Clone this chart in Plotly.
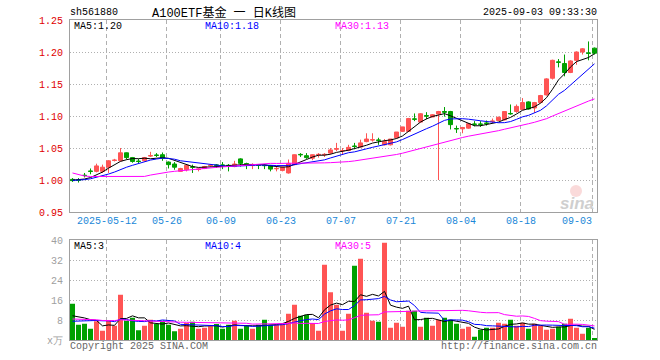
import numpy as np
import plotly.graph_objects as go

# ---------------- data ----------------
open_ = [1.001, 1.000, 1.0075, 1.014, 1.0135, 1.0135, 1.020, 1.0305, 1.030, 1.0425,
         1.035, 1.0295, 1.030, 1.0375, 1.039, 1.0395, 1.028, 1.025, 1.0135, 1.016,
         1.0205, 1.0165, 1.018, 1.0225, 1.0235, 1.0235, 1.023, 1.021, 1.033, 1.0255,
         1.0225, 1.0235, 1.023, 1.0225, 1.0175, 1.015, 1.011, 1.024, 1.040, 1.038,
         1.034, 1.0395, 1.0395, 1.042, 1.048, 1.0455, 1.046, 1.053, 1.0515, 1.060,
         1.0625, 1.0625, 1.055, 1.055, 1.066, 1.076, 1.076, 1.0955, 1.0905, 1.1005,
         1.0985, 1.103, 1.107, 1.107, 1.0805, 1.080, 1.081, 1.0875, 1.0875, 1.089,
         1.0915, 1.093, 1.094, 1.104, 1.107, 1.110, 1.122, 1.1125, 1.121, 1.133,
         1.159, 1.1845, 1.182, 1.168, 1.187, 1.200, 1.1985, 1.206]
high = [1.003, 1.003, 1.011, 1.018, 1.0255, 1.024, 1.031, 1.033, 1.050, 1.043,
        1.036, 1.033, 1.036, 1.044, 1.042, 1.043, 1.029, 1.028, 1.019, 1.025,
        1.024, 1.019, 1.022, 1.025, 1.025, 1.028, 1.025, 1.030, 1.034, 1.027,
        1.026, 1.024, 1.025, 1.0235, 1.0205, 1.021, 1.032, 1.040, 1.042, 1.042,
        1.040, 1.042, 1.042, 1.050, 1.058, 1.050, 1.055, 1.058, 1.063, 1.073,
        1.073, 1.066, 1.064, 1.064, 1.075, 1.083, 1.097, 1.104, 1.1045, 1.106,
        1.103, 1.108, 1.114, 1.108, 1.085, 1.083, 1.089, 1.092, 1.092, 1.093,
        1.096, 1.099, 1.107, 1.118, 1.118, 1.128, 1.123, 1.122, 1.133, 1.159,
        1.188, 1.189, 1.196, 1.187, 1.201, 1.206, 1.2165, 1.207]
low = [0.997, 0.996, 1.004, 1.009, 1.012, 1.011, 1.011, 1.029, 1.029, 1.032,
       1.027, 1.026, 1.029, 1.036, 1.036, 1.030, 1.018, 1.016, 1.013, 1.0135,
       1.011, 1.0135, 1.017, 1.021, 1.019, 1.017, 1.0135, 1.020, 1.021, 1.017,
       1.017, 1.017, 1.017, 1.0135, 1.0135, 1.0135, 1.010, 1.023, 1.036, 1.033,
       1.031, 1.035, 1.036, 1.040, 1.045, 1.040, 1.045, 1.048, 1.051, 1.059,
       1.060, 1.055, 1.054, 1.054, 1.065, 1.075, 1.075, 1.092, 1.090, 1.095,
       1.098, 1.000, 1.099, 1.079, 1.0735, 1.073, 1.080, 1.084, 1.083, 1.085,
       1.089, 1.092, 1.093, 1.102, 1.105, 1.110, 1.110, 1.105, 1.120, 1.132,
       1.157, 1.176, 1.162, 1.167, 1.180, 1.196, 1.187, 1.196]
close = [0.999, 0.9995, 1.007, 1.0135, 1.022, 1.020, 1.030, 1.031, 1.0425, 1.035,
         1.029, 1.029, 1.035, 1.038, 1.0385, 1.034, 1.024, 1.020, 1.018, 1.023,
         1.020, 1.017, 1.021, 1.023, 1.023, 1.023, 1.0225, 1.025, 1.026, 1.025,
         1.023, 1.023, 1.0225, 1.017, 1.018, 1.020, 1.026, 1.0395, 1.0395, 1.035,
         1.0395, 1.040, 1.040, 1.047, 1.049, 1.046, 1.051, 1.0525, 1.058, 1.064,
         1.063, 1.062, 1.060, 1.064, 1.075, 1.083, 1.096, 1.095, 1.1035, 1.100,
         1.102, 1.107, 1.106, 1.0865, 1.080, 1.082, 1.088, 1.087, 1.087, 1.0885,
         1.092, 1.098, 1.107, 1.1035, 1.115, 1.121, 1.111, 1.121, 1.132, 1.158,
         1.187, 1.184, 1.168, 1.186, 1.200, 1.205, 1.198, 1.198]
volume = [14.5, 6.1, 6.5, 4.5, 7.5, 3.7, 7.9, 5.7, 18.1, 7.7,
          8.9, 3.9, 5.7, 8.1, 6.4, 7.7, 6.1, 3.5, 4.5, 6.8,
          7.3, 4.5, 4.9, 5.5, 6.4, 4.5, 6.1, 7.7, 4.5, 5.6,
          4.5, 6.1, 8.1, 6.1, 6.1, 6.4, 10.5, 14.1, 9.7, 10.1,
          6.8, 3.7, 30.1, 19.1, 14.1, 3.7, 10.5, 29.7, 32.5, 10.9,
          7.7, 7.3, 38.9, 4.9, 6.9, 5.3, 11.7, 11.7, 5.3, 8.9,
          5.7, 8.1, 8.9, 8.1, 6.5, 4.5, 5.3, 1.3, 4.1, 4.9,
          4.9, 6.9, 6.5, 8.1, 5.7, 6.9, 4.5, 6.5, 5.7, 4.1,
          4.5, 5.3, 6.5, 8.5, 4.9, 2.5, 4.9, 0.5]
# estimated closes / volumes before the visible window (only feed the moving averages)
prev_close = [1.085, 1.065, 1.035,
              1.022, 1.020, 1.030, 1.031, 1.040, 1.035, 1.029, 1.029, 1.033,
              0.975, 0.980, 0.985, 0.990, 0.985, 0.988, 0.990, 0.988,
              0.995, 1.000, 1.000, 1.000, 1.000,
              0.998, 1.000, 1.002, 1.000]
prev_volume = [7, 9, 8, 10, 12, 8, 7, 9, 11, 14, 9, 8, 7, 8, 10, 9, 8, 7, 8, 8,
               5, 6, 5.5, 5, 5,
               8, 9, 8, 9]

tick_index = [6, 16, 25, 35, 45, 55, 65, 75, 87]
tick_labels = ["2025-05-12", "05-26", "06-09", "06-23", "07-07", "07-21", "08-04", "08-18", "09-03"]
price_ticks = [0.95, 1.00, 1.05, 1.10, 1.15, 1.20, 1.25]
vol_ticks = [0, 8, 16, 24, 32, 40]
vol_tick_text = ["x万", "8", "16", "24", "32", "40"]
price_legend = ["MA5:1.20", "MA10:1.18", "MA30:1.13"]
vol_legend = ["MA5:3", "MA10:4", "MA30:5"]

# ---------------- helpers ----------------
def moving_avg(prev, cur, n):
    s = np.array(list(prev) + list(cur), dtype=float)
    out = []
    for i in range(len(prev), len(s)):
        out.append(float(s[i - n + 1:i + 1].mean()))
    return out

RED = "#ff5454"
GREEN = "#00a000"
MA_COLORS = ["#000000", "#0000ff", "#ff00ff"]
MONO = "Liberation Mono, DejaVu Sans Mono, monospace"
GRID = "#b0b0b0"
BORDER = "#a0a0a0"

x = list(range(len(close)))

W, H = 660, 360
L, R, T, B = 70, 63, 20, 20
PW, PH = W - L - R, H - T - B

def px(v):
    return (v - L) / PW

def py(v):
    return (H - B - v) / PH

fig = go.Figure()

fig.add_trace(go.Candlestick(
    x=x, open=open_, high=high, low=low, close=close,
    increasing=dict(line=dict(color=RED, width=1), fillcolor=RED),
    decreasing=dict(line=dict(color=GREEN, width=1), fillcolor=GREEN),
    whiskerwidth=0, xaxis="x", yaxis="y", showlegend=False, hoverinfo="skip"))

for per, col in zip([5, 10, 30], MA_COLORS):
    fig.add_trace(go.Scatter(x=x, y=moving_avg(prev_close, close, per), mode="lines",
                             line=dict(color=col, width=1), xaxis="x", yaxis="y",
                             showlegend=False, hoverinfo="skip"))

vol_colors = [RED if c >= o else GREEN for o, c in zip(open_, close)]
fig.add_trace(go.Bar(x=x, y=volume, width=5 / 6, marker=dict(color=vol_colors, line=dict(width=0)),
                     xaxis="x2", yaxis="y2", showlegend=False, hoverinfo="skip"))

for per, col in zip([5, 10, 30], MA_COLORS):
    fig.add_trace(go.Scatter(x=x, y=moving_avg(prev_volume, volume, per), mode="lines",
                             line=dict(color=col, width=1), xaxis="x2", yaxis="y2",
                             showlegend=False, hoverinfo="skip"))

grid_x = [k - 0.3 for k in tick_index]
xr = [-2.5 / 6, (PW - 2.5) / 6]

xaxis_common = dict(range=xr, tickvals=grid_x, showticklabels=False, ticks="",
                    showgrid=True, gridcolor=GRID, griddash="4px,3px", gridwidth=1,
                    zeroline=False, showline=True, mirror=True, linecolor=BORDER, linewidth=1,
                    rangeslider=dict(visible=False), fixedrange=True)

annotations = []
def add_text(xp, yp, text, color, size=10, xanchor="left", family=MONO, xref="paper"):
    annotations.append(dict(x=xp, y=yp, xref=xref, yref="paper", text=text, showarrow=False,
                            xanchor=xanchor, yanchor="middle",
                            font=dict(family=family, size=size, color=color)))

add_text(px(68), py(13), "sh561880", "#000000")
add_text(px(224), py(12.5), "A100ETF基金 一 日K线图", "#000000", size=12, xanchor="center",
         family="Liberation Mono, Noto Sans CJK SC")
add_text(px(599), py(13), "2025-09-03 09:33:30", "#000000", xanchor="right")
for txt, xpos, col in zip(price_legend, [72, 203, 333], MA_COLORS):
    add_text(px(xpos), py(26.5), txt, col)
for txt, xpos, col in zip(vol_legend, [72, 203, 333], MA_COLORS):
    add_text(px(xpos), py(246), txt, col)
for k, lab in zip(grid_x, tick_labels):
    if lab == tick_labels[-1]:
        add_text(k + 0.2, py(221), lab, "#1a88d8", xanchor="right", xref="x")
    else:
        add_text(k, py(221), lab, "#1a88d8", xanchor="center", xref="x")
add_text(px(68), py(346.5), "Copyright 2025 SINA.COM", "#666666")
add_text(px(599), py(346.5), "http://finance.sina.com.cn", "#666666", xanchor="right")
annotations.append(dict(x=px(577), y=py(203), xref="paper", yref="paper", text="<b><i>sina</i></b>",
                        showarrow=False, xanchor="center", yanchor="middle",
                        font=dict(family="Liberation Sans, Arial", size=17, color="#cfcfcf")))

shapes = [dict(type="circle", xref="paper", yref="paper",
               x0=px(570), x1=px(582), y0=py(197), y1=py(185),
               fillcolor="rgba(240,150,150,0.35)", line=dict(width=0), layer="below")]

fig.update_layout(
    width=W, height=H, margin=dict(l=L, r=R, t=T, b=B, pad=0),
    paper_bgcolor="white", plot_bgcolor="white", showlegend=False,
    boxgap=0.33, boxgroupgap=0,
    xaxis=dict(domain=[0, 1], anchor="y", **xaxis_common),
    xaxis2=dict(domain=[0, 1], anchor="y2", matches="x", **xaxis_common),
    yaxis=dict(domain=[0.4, 1.0], anchor="x", range=[0.95, 1.25], tickvals=price_ticks,
               tickformat=".2f", ticks="", ticklabelstandoff=4,
               tickfont=dict(family=MONO, size=10, color="#e00000"),
               showgrid=True, gridcolor=GRID, griddash="1px,2px", gridwidth=1,
               zeroline=False, showline=True, mirror=True, linecolor=BORDER, linewidth=1,
               fixedrange=True),
    yaxis2=dict(domain=[0, 0.3125], anchor="x2", range=[0, 40], tickvals=vol_ticks,
                ticktext=vol_tick_text, ticks="", ticklabelstandoff=4,
                tickfont=dict(family=MONO, size=10, color="#a0a0a0"),
                showgrid=True, gridcolor=GRID, griddash="1px,2px", gridwidth=1,
                zeroline=False, showline=True, mirror=True, linecolor=BORDER, linewidth=1,
                fixedrange=True),
    annotations=annotations, shapes=shapes,
)

fig.write_html("out.html", config={"displayModeBar": False})
